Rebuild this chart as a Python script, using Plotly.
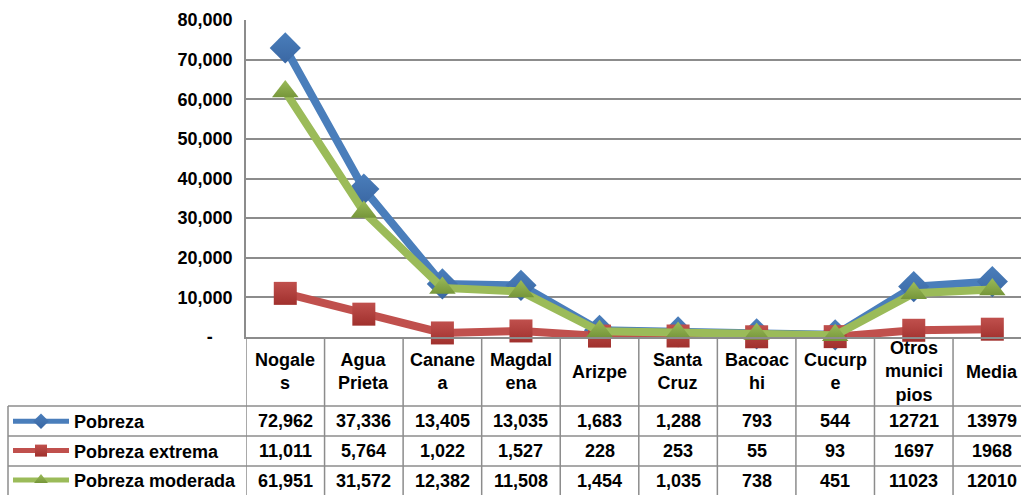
import plotly.graph_objects as go

# Datos
MUNICIPIOS = ["Nogales", "Agua Prieta", "Cananea", "Magdalena", "Arizpe",
              "Santa Cruz", "Bacoachi", "Cucurpe", "Otros municipios", "Media"]
# etiquetas de la tabla, cortadas igual que en el original
ETIQUETAS = ["Nogale<br>s", "Agua<br>Prieta", "Canane<br>a", "Magdal<br>ena",
             "Arizpe", "Santa<br>Cruz", "Bacoac<br>hi", "Cucurp<br>e",
             "Otros<br>munici<br>pios", "Media"]
POBREZA = [72962, 37336, 13405, 13035, 1683, 1288, 793, 544, 12721, 13979]
POBREZA_EXTREMA = [11011, 5764, 1022, 1527, 228, 253, 55, 93, 1697, 1968]
POBREZA_MODERADA = [61951, 31572, 12382, 11508, 1454, 1035, 738, 451, 11023, 12010]
SIN_COMAS = {"Otros municipios", "Media"}   # en la fuente van sin separador

Y_TICKS = [0, 10000, 20000, 30000, 40000, 50000, 60000, 70000, 80000]
Y_TICKTEXT = ["-" + "\u00a0" * 4, "10,000", "20,000", "30,000", "40,000",
              "50,000", "60,000", "70,000", "80,000"]

SERIES = [
    ("Pobreza", POBREZA, "#4A7EBB", "#3A67A3", "diamond", 24),
    ("Pobreza extrema", POBREZA_EXTREMA, "#C0504D", "#A0302D", "square", 23),
    ("Pobreza moderada", POBREZA_MODERADA, "#9BBB59", "#76963A", "triangle-up", 23),
]

FONT = "Liberation Sans, Arial, sans-serif"
GRID = "#8C8C8C"

# geometria (px) para ubicar la tabla debajo del area de trazado
W, H = 1021, 495
TOP, BOTTOM, LEFT = 20, 337, 246
COL_W = 78.56
HEADER_END = 406
ROW_EDGES = [406, 436, 466, 495]
TABLE_LEFT = 8


def py(y_px):
    """pixel vertical -> coordenada paper"""
    return (BOTTOM - y_px) / (BOTTOM - TOP)


def px(x_px):
    return (x_px - LEFT) / (W - LEFT)


def fmt(v, muni):
    return str(v) if muni in SIN_COMAS else f"{v:,}"


fig = go.Figure()
for i, (name, vals, col, dark, sym, size) in enumerate(SERIES):
    fig.add_trace(go.Scatter(
        x=MUNICIPIOS, y=vals, name=name, mode="lines+markers",
        line=dict(color=col, width=8),
        marker=dict(symbol=sym, size=size, color=col,
                    gradient=dict(type="vertical", color=dark),
                    line=dict(width=0)),
        legendgroup=f"g{i}", cliponaxis=False,
    ))

shapes = []
# lineas verticales de la tabla
for i in range(len(MUNICIPIOS) + 1):
    shapes.append(dict(type="line", xref="x", yref="paper",
                       x0=i - 0.5, x1=i - 0.5, y0=0, y1=py(H),
                       line=dict(color=GRID, width=1.5)))
# borde izquierdo de las filas
shapes.append(dict(type="line", xref="paper", yref="paper",
                   x0=px(TABLE_LEFT), x1=px(TABLE_LEFT),
                   y0=py(HEADER_END), y1=py(H), line=dict(color=GRID, width=1.5)))
# lineas horizontales
for y in ROW_EDGES[:-1]:
    shapes.append(dict(type="line", xref="paper", yref="paper",
                       x0=px(TABLE_LEFT), x1=1, y0=py(y), y1=py(y),
                       line=dict(color=GRID, width=1.5)))

annotations = []
txt_font = dict(family=FONT, size=18, color="black", weight="bold")
for i, lab in enumerate(ETIQUETAS):
    annotations.append(dict(x=i, y=py((BOTTOM + HEADER_END) / 2), xref="x", yref="paper",
                            text=lab, showarrow=False, font=txt_font,
                            xanchor="center", yanchor="middle"))
for r, (name, vals, *_rest) in enumerate(SERIES):
    yc = py((ROW_EDGES[r] + ROW_EDGES[r + 1]) / 2)
    for i, (m, v) in enumerate(zip(MUNICIPIOS, vals)):
        annotations.append(dict(x=i, y=yc, xref="x", yref="paper",
                                text=fmt(v, m), showarrow=False, font=txt_font,
                                xanchor="center", yanchor="middle"))

fig.update_layout(
    width=W, height=H,
    margin=dict(l=LEFT, r=0, t=TOP, b=H - BOTTOM, pad=0, autoexpand=False),
    paper_bgcolor="white", plot_bgcolor="white",
    font=dict(family=FONT, size=18, color="black"),
    xaxis=dict(range=[-0.5, -0.5 + (W - LEFT) / COL_W], showticklabels=False,
               showgrid=False, showline=True, linecolor=GRID, linewidth=1.5,
               ticks="", zeroline=False, fixedrange=True),
    yaxis=dict(range=[0, 80000], tickvals=Y_TICKS, ticktext=Y_TICKTEXT,
               tickfont=dict(family=FONT, size=18, color="black", weight="bold"),
               showgrid=True, gridcolor=GRID, gridwidth=1.5,
               showline=True, linecolor=GRID, linewidth=1.5,
               zeroline=False, ticks="", ticklabelstandoff=8),
    showlegend=True,
    legend=dict(x=px(TABLE_LEFT), xanchor="left", y=py(HEADER_END - 3), yanchor="top",
                traceorder="grouped", tracegroupgap=3, itemwidth=56,
                itemsizing="constant",
                font=dict(family=FONT, size=18, color="black", weight="bold"),
                bgcolor="rgba(0,0,0,0)", borderwidth=0),
    shapes=shapes,
    annotations=annotations,
)

# sin margen del body para que el grafico quede en (0, 0)
fig.write_html("out.html", config={"displayModeBar": False},
               post_script="document.body.style.margin = '0';")
